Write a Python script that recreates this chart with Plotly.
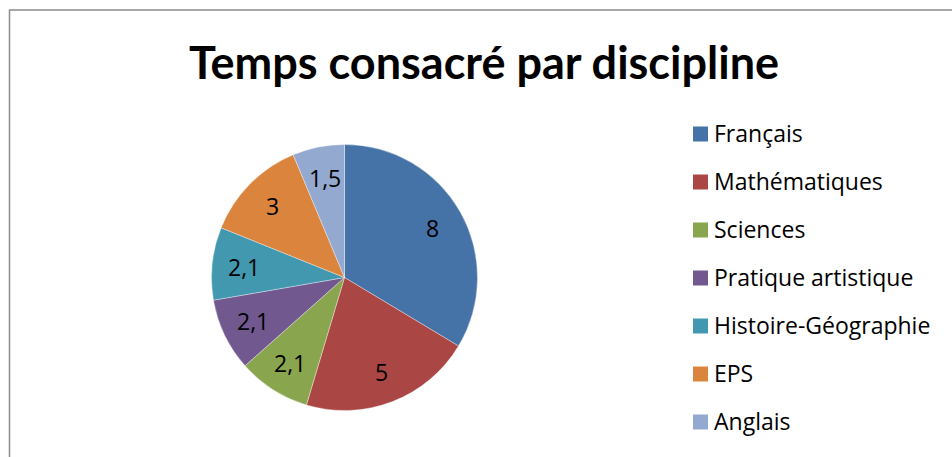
import math
import plotly.graph_objects as go

labels = ["Français", "Mathématiques", "Sciences", "Pratique artistique",
          "Histoire-Géographie", "EPS", "Anglais"]
values = [8, 5, 2.1, 2.1, 2.1, 3, 1.5]
colors = ["#4572A7", "#AA4643", "#89A54E", "#71588F", "#4198AF", "#DB843D", "#93A9CF"]

W, H = 952, 457
cx, cy, r = 344.5, 277.5, 133
FONT = "Open Sans"

fig = go.Figure(go.Pie(
    labels=labels, values=values, sort=False, direction="clockwise", rotation=0,
    marker=dict(colors=colors, line=dict(color="rgba(255,255,255,0.6)", width=0.6)),
    textinfo="none",
    domain=dict(x=[(cx - r) / W, (cx + r) / W], y=[(H - cy - r) / H, (H - cy + r) / H]),
    showlegend=False, hoverinfo="label+value",
))

annotations = []
# slice value labels, placed at each slice's mid angle
total = sum(values)
cum = 0.0
lab_r = 0.76 * r
for v in values:
    theta = math.radians((cum + v / 2) / total * 360)
    cum += v
    px = cx + lab_r * math.sin(theta)
    py = cy - lab_r * math.cos(theta)
    annotations.append(dict(text=f"{v:g}".replace(".", ","), xref="paper", yref="paper",
                            x=px / W, y=(H - py) / H, xanchor="center", yanchor="middle",
                            showarrow=False, font=dict(family=FONT, size=23, color="black")))

shapes = [dict(type="rect", xref="paper", yref="paper", x0=9.5 / W, x1=1.01,
               y0=-0.01, y1=(H - 10) / H, line=dict(color="#8c8c8c", width=1.5))]
leg_x, leg_y0, leg_dy, sq = 693, 134, 48, 15
for i, (lab, col) in enumerate(zip(labels, colors)):
    yc = leg_y0 + i * leg_dy
    shapes.append(dict(type="rect", xref="paper", yref="paper",
                       x0=leg_x / W, x1=(leg_x + sq) / W,
                       y0=(H - yc - sq / 2) / H, y1=(H - yc + sq / 2) / H,
                       fillcolor=col, line=dict(width=0)))
    annotations.append(dict(text=lab, xref="paper", yref="paper", x=(leg_x + 19) / W,
                            y=(H - yc + 1) / H, xanchor="left", yanchor="middle", showarrow=False,
                            font=dict(family=FONT, size=23, color="black")))

fig.update_layout(
    width=W, height=H, margin=dict(l=0, r=0, t=0, b=0),
    paper_bgcolor="white",
    title=dict(text="<b>Temps consacré par discipline</b>", x=484 / W, xanchor="center",
               y=(H - 63) / H, yanchor="middle",
               font=dict(family="Lato", size=45, color="black")),
    shapes=shapes, annotations=annotations,
)
fig.write_html("out.html", config={"displayModeBar": False},
               post_script="document.body.style.margin='0';")
